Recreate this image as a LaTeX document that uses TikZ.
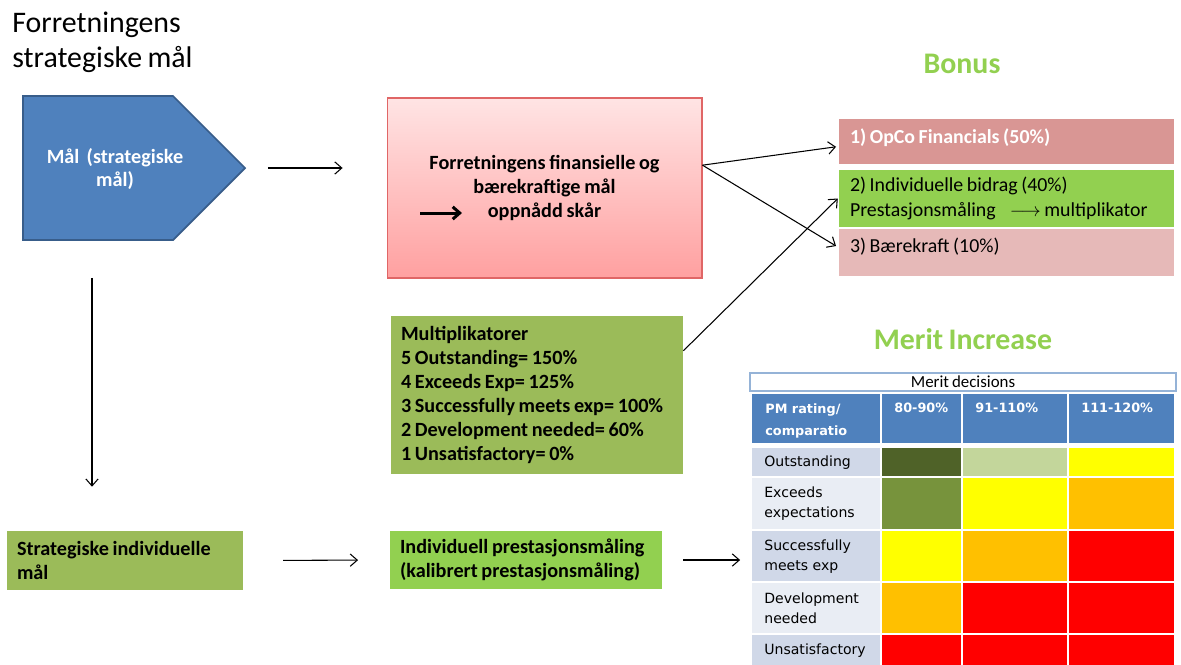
\documentclass[tikz,border=0pt]{standalone}
\usepackage{fontspec}
\setmainfont{Carlito}[WordSpace=0.8]
\newfontfamily\tabfont{DejaVu Sans}
\usepackage{xcolor}
\usetikzlibrary{arrows.meta,calc,positioning}

\definecolor{malblue}{HTML}{4F81BD}
\definecolor{maledge}{HTML}{385D8A}
\definecolor{pinktop}{HTML}{FFE4E4}
\definecolor{pinkbot}{HTML}{FFA0A0}
\definecolor{pinkedge}{HTML}{E06666}
\definecolor{opcofill}{HTML}{D99694}
\definecolor{bidragfill}{HTML}{92D050}
\definecolor{baerefill}{HTML}{E6B9B8}
\definecolor{olivefill}{HTML}{9BBB59}
\definecolor{titlegreen}{HTML}{92D050}
\definecolor{decedge}{HTML}{95B3D7}
\definecolor{lbldark}{HTML}{D0D8E8}
\definecolor{lbllight}{HTML}{E9EDF4}
\definecolor{mdark}{HTML}{4F6228}
\definecolor{mlight}{HTML}{C3D69B}
\definecolor{mmid}{HTML}{77933C}
\definecolor{myellow}{HTML}{FFFF00}
\definecolor{mamber}{HTML}{FFC000}
\definecolor{mred}{HTML}{FF0000}

\tikzset{
  arr/.style={-{Straight Barb[length=4pt,width=7pt]}, line width=0.6pt},
  boldtxt/.style={font=\fontsize{11.5}{13.6}\selectfont\bfseries},
  bonustxt/.style={font=\fontsize{11.3}{13.8}\selectfont},
  fillbox/.style={inner ysep=0pt, align=flush left},
  bigtitle/.style={font=\fontsize{17}{19.8}\selectfont\bfseries, text=titlegreen},
  hdtxt/.style={anchor=north west, inner sep=0pt, align=left, text=white,
    font=\tabfont\bfseries\fontsize{7.3}{12.5}\selectfont},
  lbltxt/.style={anchor=west, inner sep=0pt, align=left,
    font=\tabfont\fontsize{8}{11.3}\selectfont},
}

\begin{document}
\begin{tikzpicture}[x=0.02cm,y=-0.02cm]
  \useasboundingbox (0,0) rectangle (1181,664);

  \node[anchor=north west, inner sep=0pt, align=left, font=\fontsize{17}{19.8}\selectfont] (title) at (12,12) {Forretningens\\strategiske mål};

  \draw[fill=malblue, draw=maledge, line width=1pt] (23,96) -- (173,96) -- (245,168) coordinate (tip) -- (173,240) -- (23,240) -- cycle;
  \coordinate (malbot) at (92,240);
  \node[boldtxt, text=white, align=center] (mal) at (115,169) {Mål\ \ (strategiske\\mål)};

  \node[draw=pinkedge, line width=0.6pt, top color=pinktop, bottom color=pinkbot, minimum width=6.3cm, minimum height=3.6cm, boldtxt, align=center] (maaloppn) at (544.5,188) {Forretningens finansielle og\\bærekraftige mål\\oppnådd skår};
  \coordinate (skarA) at (420,213);
  \coordinate (skarB) at (462,213);
  \draw[-{Straight Barb[length=4pt,width=7pt]}, line width=1.7pt] (skarA) -- (skarB);

  \node[bigtitle] (bonus) at (962,64) {Bonus};
  \node[fill=opcofill, text=white, font={\fontsize{11.3}{13.8}\selectfont\bfseries}, fillbox, text width=6.26cm, inner xsep=0.22cm, minimum height=0.9cm, text height=8.8pt, text depth=7.1pt] (opco) at (1006.5,141.5) {1) OpCo Financials (50\%)};
  \node[fill=bidragfill, bonustxt, fillbox, text width=6.26cm, inner xsep=0.22cm, minimum height=1.14cm] (bidrag) at (1006.5,198.5) {2) Individuelle bidrag (40\%)\\Prestasjonsmåling\hspace{8pt}$\longrightarrow$\hspace{2pt}multiplikator};
  \node[fill=baerefill, bonustxt, fillbox, text width=6.26cm, inner xsep=0.22cm, minimum height=0.94cm, text height=8pt, text depth=8pt] (baere) at (1006.5,252.5) {3) Bærekraft (10\%)};

  \node[fill=olivefill, boldtxt, fillbox, text width=5.44cm, inner xsep=0.2cm, minimum height=3.16cm] (multi) at (537,395) {Multiplikatorer\\5 Outstanding= 150\%\\4 Exceeds Exp= 125\%\\3 Successfully meets exp= 100\%\\2 Development needed= 60\%\\1 Unsatisfactory= 0\%};

  \node[fill=olivefill, boldtxt, fillbox, text width=4.32cm, inner xsep=0.2cm, minimum height=1.18cm] (strat) at (125,560.5) {Strategiske individuelle\\mål};
  \node[fill=bidragfill, boldtxt, fillbox, text width=5.04cm, inner xsep=0.2cm, minimum height=1.16cm] (indiv) at (526,560) {Individuell prestasjonsmåling\\(kalibrert prestasjonsmåling)};

  \node[bigtitle] (merit) at (963,339) {Merit Increase};
  \node[draw=decedge, line width=1.2pt, fill=white, minimum width=8.52cm, minimum height=0.36cm, inner sep=0pt, font=\fontsize{9.6}{11}\selectfont] (dec) at (963,382) {Merit decisions};

  \foreach \xa/\xb in {752/880,882/961,963/1067,1069/1174}
    \fill[malblue] (\xa,394) rectangle (\xb,443);
  \foreach \ya/\yb/\lc/\ca/\cb/\cc in {448/476/lbldark/mdark/mlight/myellow,
      478/529/lbllight/mmid/myellow/mamber, 531/581/lbldark/myellow/mamber/mred,
      583/633/lbllight/mamber/mred/mred, 635/690/lbldark/mred/mred/mred}{
    \fill[\lc] (752,\ya) rectangle (880,\yb);
    \fill[\ca] (882,\ya) rectangle (961,\yb);
    \fill[\cb] (963,\ya) rectangle (1067,\yb);
    \fill[\cc] (1069,\ya) rectangle (1174,\yb);
  }
  \node[hdtxt] (pmhd) at (765,403) {PM rating/\\comparatio};
  \node[hdtxt] (cola) at (894,403) {80-90\%};
  \node[hdtxt] (colb) at (975,403) {91-110\%};
  \node[hdtxt] (colc) at (1081,403) {111-120\%};
  \node[lbltxt] (outst) at (764,462.5) {Outstanding};
  \node[lbltxt] (exceeds) at (764,504) {Exceeds\\expectations};
  \node[lbltxt] (succ) at (764,556.5) {Successfully\\meets exp};
  \node[lbltxt] (devel) at (764,608.5) {Development\\needed};
  \node[lbltxt] (unsat) at (764,651) {Unsatisfactory};

  \draw[arr, shorten <=13pt, shorten >=25pt] (tip) -- (tip -| maaloppn.west);
  \draw[arr, shorten <=21.5pt, shorten >=25pt] (malbot) -- (malbot |- strat.north);
  \draw[arr, shorten <=22.7pt, shorten >=18pt] (strat.east) -- (indiv.west);
  \draw[arr, shorten <=12pt, shorten >=13.6pt] (indiv.east) -- (indiv.east -| succ.west);
  \draw[arr] ([yshift=13pt]maaloppn.east) -- ([yshift=-3pt, xshift=-1.5pt]opco.west);
  \draw[arr] ([yshift=13pt]maaloppn.east) -- ([yshift=3.7pt, xshift=-1.5pt]baere.west);
  \draw[arr] ([yshift=-20pt]multi.north east) -- ([xshift=-0.5pt]bidrag.west);
\end{tikzpicture}
\end{document}
